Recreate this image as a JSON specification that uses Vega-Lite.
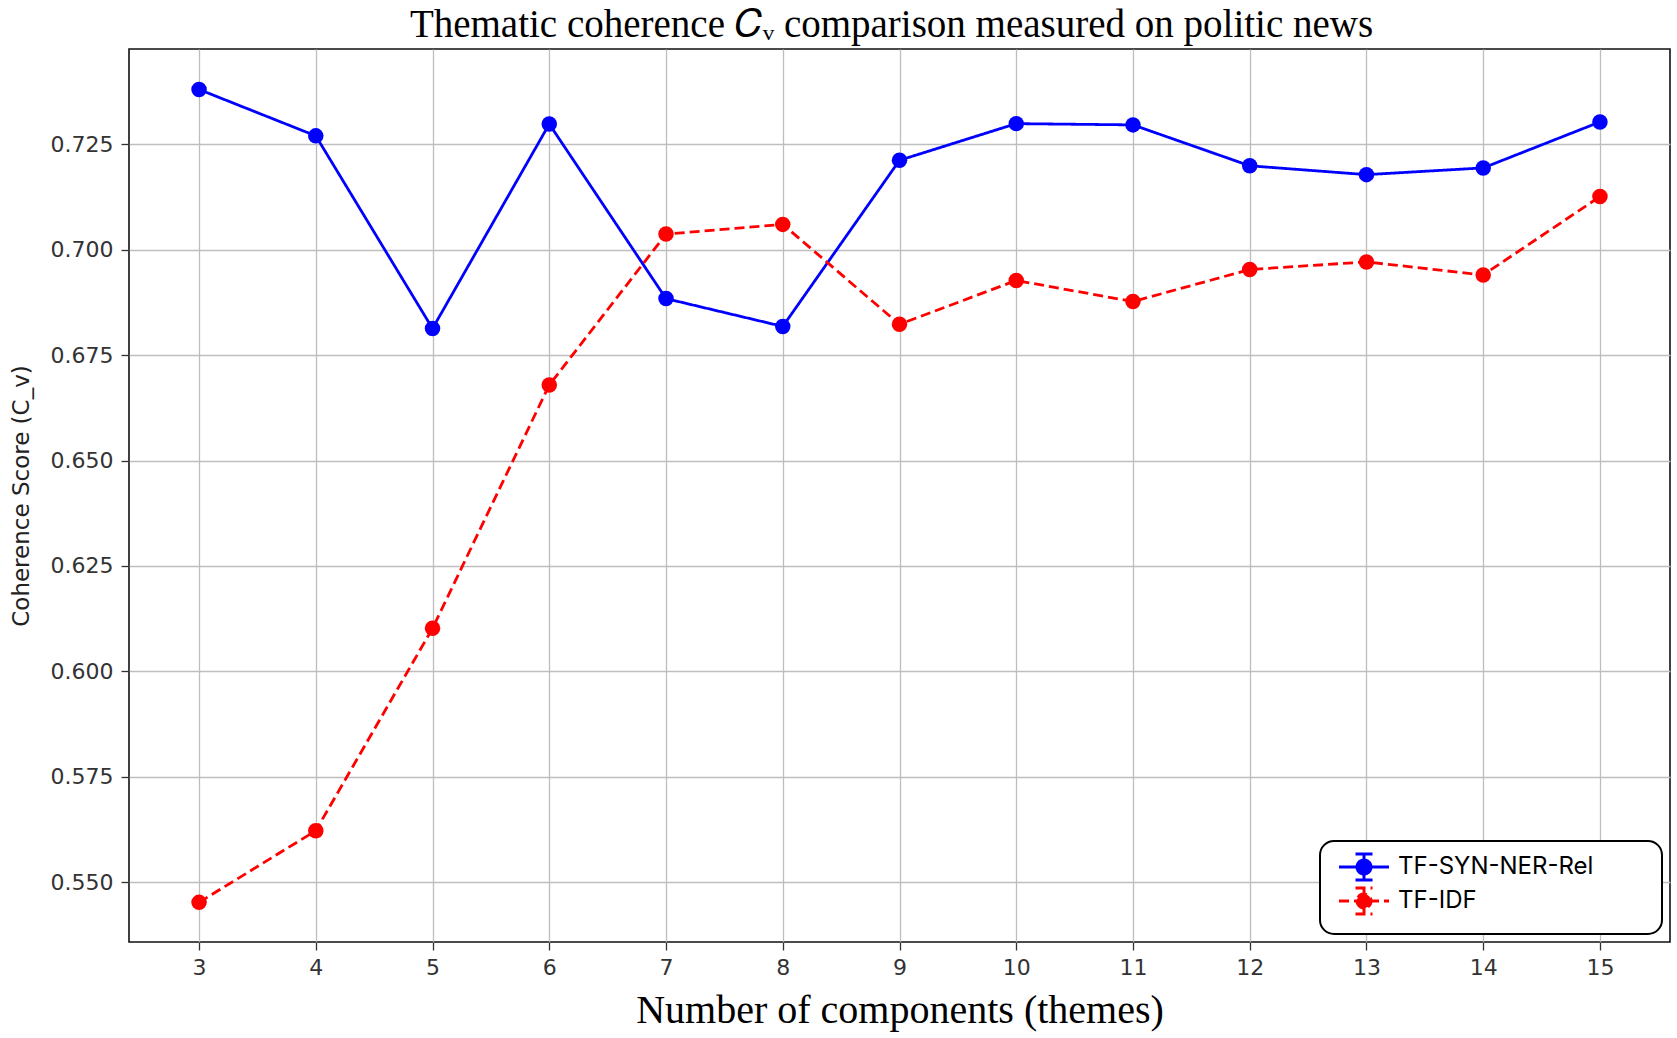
{
  "$schema": "https://vega.github.io/schema/vega-lite/v6.json",
  "autosize": {"type": "none"},
  "padding": {"left": 129, "top": 49, "right": 7, "bottom": 96},
  "width": 1541,
  "height": 893,
  "background": "white",
  "title": {
    "text": "Thematic coherence 𝐶ᵥ comparison measured on politic news",
    "font": "Liberation Serif",
    "fontSize": 39,
    "fontWeight": "normal",
    "color": "black",
    "anchor": "middle",
    "baseline": "alphabetic",
    "offset": 6,
    "dy": 33,
    "dx": -8
  },
  "data": {
    "values": [
      {"k": 3, "series": "TF-SYN-NER-Rel", "score": 0.7380},
      {"k": 4, "series": "TF-SYN-NER-Rel", "score": 0.7270},
      {"k": 5, "series": "TF-SYN-NER-Rel", "score": 0.6813},
      {"k": 6, "series": "TF-SYN-NER-Rel", "score": 0.7298},
      {"k": 7, "series": "TF-SYN-NER-Rel", "score": 0.6884},
      {"k": 8, "series": "TF-SYN-NER-Rel", "score": 0.6818},
      {"k": 9, "series": "TF-SYN-NER-Rel", "score": 0.7212},
      {"k": 10, "series": "TF-SYN-NER-Rel", "score": 0.7299},
      {"k": 11, "series": "TF-SYN-NER-Rel", "score": 0.7296},
      {"k": 12, "series": "TF-SYN-NER-Rel", "score": 0.7199},
      {"k": 13, "series": "TF-SYN-NER-Rel", "score": 0.7178},
      {"k": 14, "series": "TF-SYN-NER-Rel", "score": 0.7194},
      {"k": 15, "series": "TF-SYN-NER-Rel", "score": 0.7303},
      {"k": 3, "series": "TF-IDF", "score": 0.5452},
      {"k": 4, "series": "TF-IDF", "score": 0.5622},
      {"k": 5, "series": "TF-IDF", "score": 0.6102},
      {"k": 6, "series": "TF-IDF", "score": 0.6679},
      {"k": 7, "series": "TF-IDF", "score": 0.7037},
      {"k": 8, "series": "TF-IDF", "score": 0.7060},
      {"k": 9, "series": "TF-IDF", "score": 0.6823},
      {"k": 10, "series": "TF-IDF", "score": 0.6927},
      {"k": 11, "series": "TF-IDF", "score": 0.6877},
      {"k": 12, "series": "TF-IDF", "score": 0.6953},
      {"k": 13, "series": "TF-IDF", "score": 0.6971},
      {"k": 14, "series": "TF-IDF", "score": 0.6940},
      {"k": 15, "series": "TF-IDF", "score": 0.7126}
    ]
  },
  "encoding": {
    "x": {
      "field": "k",
      "type": "quantitative",
      "scale": {"domain": [2.4, 15.6], "nice": false, "zero": false},
      "axis": {
        "title": "Number of components (themes)",
        "values": [3, 4, 5, 6, 7, 8, 9, 10, 11, 12, 13, 14, 15],
        "format": "d",
        "labelFont": "DejaVu Sans",
        "labelFontSize": 22,
        "labelColor": "#333333",
        "labelPadding": 7,
        "tickSize": 8,
        "tickColor": "#333333",
        "tickWidth": 1.3,
        "domain": false,
        "grid": true,
        "gridColor": "#bebebe",
        "gridWidth": 1.3,
        "titleFont": "Liberation Serif",
        "titleFontSize": 40,
        "titleFontWeight": "normal",
        "titleColor": "black",
        "titlePadding": 12
      }
    },
    "y": {
      "field": "score",
      "type": "quantitative",
      "scale": {"domain": [0.5358, 0.7476], "nice": false, "zero": false},
      "axis": {
        "title": "Coherence Score (C_v)",
        "values": [0.55, 0.575, 0.6, 0.625, 0.65, 0.675, 0.7, 0.725],
        "format": ".3f",
        "labelFont": "DejaVu Sans",
        "labelFontSize": 22,
        "labelColor": "#333333",
        "labelPadding": 8,
        "tickSize": 8,
        "tickColor": "#333333",
        "tickWidth": 1.3,
        "domain": false,
        "grid": true,
        "gridColor": "#bebebe",
        "gridWidth": 1.3,
        "titleFont": "DejaVu Sans",
        "titleFontSize": 23,
        "titleFontWeight": "normal",
        "titleColor": "#222222",
        "titlePadding": 17
      }
    },
    "color": {
      "field": "series",
      "type": "nominal",
      "scale": {"domain": ["TF-SYN-NER-Rel", "TF-IDF"], "range": ["#0000ff", "#ff0000"]},
      "legend": {
        "title": null,
        "orient": "bottom-right",
        "offset": 8,
        "fillColor": "white",
        "strokeColor": "black",
        "cornerRadius": 14,
        "padding": 14,
        "rowPadding": -4,
        "symbolType": "M-2.5,0H2.5M0,-1.3V1.3M-0.85,-1.3H0.85M-0.85,1.3H0.85M-0.7,0A0.7,0.7,0,1,0,0.7,0A0.7,0.7,0,1,0,-0.7,0Z",
        "symbolSize": 400,
        "symbolStrokeWidth": 3,
        "symbolOffset": 18,
        "labelOffset": 22,
        "labelFont": "Inter",
        "labelFontSize": 24,
        "labelColor": "black",
        "labelLimit": 500,
        "labelExpr": "datum.label + '\u2800\u2800\u2800'",
        "encode": {
          "legend": {"update": {"strokeWidth": {"value": 2}}},
          "symbols": {
            "update": {
              "fill": {"scale": "color", "field": "value"},
              "stroke": {"scale": "color", "field": "value"},
              "opacity": {"value": 1}
            }
          }
        }
      }
    }
  },
  "layer": [
    {
      "mark": {"type": "line", "strokeWidth": 2.8},
      "encoding": {
        "strokeDash": {
          "field": "series",
          "type": "nominal",
          "scale": {"domain": ["TF-SYN-NER-Rel", "TF-IDF"], "range": [[1, 0], [10, 5]]}
        }
      }
    },
    {
      "mark": {"type": "point", "filled": true, "size": 240, "opacity": 1}
    }
  ],
  "config": {
    "view": {"stroke": "#111111", "strokeWidth": 1.6}
  }
}
